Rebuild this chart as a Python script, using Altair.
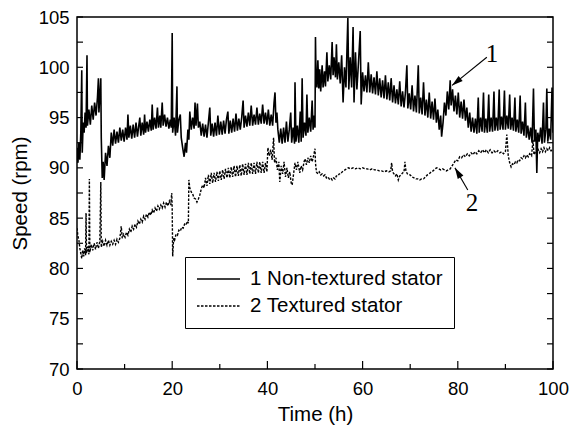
import altair as alt
import pandas as pd

# ---------------- data ----------------
series_names = ["1 Non-textured stator", "2 Textured stator"]

t1 = [0.0, 0.2, 0.4, 0.6, 0.8, 1.0, 1.1, 1.3, 1.5, 1.7, 1.9, 2.1, 2.2, 2.5, 2.8, 3.1, 3.4, 3.7, 4.0, 4.3,
      4.5, 4.6, 4.8, 5.0, 5.1, 5.3, 5.5, 5.7, 6.0, 6.3, 6.6, 6.9, 7.2, 7.5, 7.8, 8.1, 8.4, 8.7, 9.0, 9.3,
      9.6, 9.9, 10.2, 10.5, 10.7, 10.9, 11.2, 11.5, 11.8, 12.1, 12.4, 12.7, 13.0, 13.2, 13.4, 13.7, 14.0, 14.2, 14.4, 14.7,
      15.0, 15.3, 15.6, 15.8, 16.0, 16.3, 16.6, 16.9, 17.1, 17.4, 17.6, 17.9, 18.1, 18.4, 18.7, 19.0, 19.3, 19.6, 19.8, 20.0,
      20.1, 20.4, 20.7, 21.0, 21.1, 21.4, 21.7, 21.9, 22.2, 22.5, 22.8, 23.0, 23.3, 23.5, 23.7, 24.0, 24.3, 24.6, 24.8, 25.0,
      25.3, 25.5, 25.8, 26.1, 26.4, 26.7, 27.0, 27.3, 27.6, 27.9, 28.1, 28.4, 28.7, 29.0, 29.3, 29.6, 29.9, 30.2, 30.5, 30.8,
      31.1, 31.4, 31.7, 31.9, 32.2, 32.5, 32.8, 33.1, 33.4, 33.7, 34.0, 34.3, 34.6, 34.9, 35.1, 35.4, 35.7, 36.0, 36.3, 36.6,
      36.9, 37.2, 37.5, 37.8, 38.1, 38.4, 38.7, 39.0, 39.3, 39.6, 39.9, 40.2, 40.5, 40.8, 41.1, 41.4, 41.6, 41.8, 42.0, 42.2,
      42.5, 42.8, 43.1, 43.4, 43.7, 44.0, 44.3, 44.6, 44.9, 45.1, 45.4, 45.7, 45.8, 46.0, 46.3, 46.6, 46.9, 47.1, 47.3, 47.5,
      47.8, 48.1, 48.3, 48.5, 48.8, 49.1, 49.4, 49.6, 49.8, 50.0, 50.1, 50.2, 50.4, 50.6, 50.8, 51.0, 51.2, 51.5, 51.7, 52.0,
      52.2, 52.5, 52.7, 53.0, 53.3, 53.6, 53.8, 54.0, 54.3, 54.5, 54.7, 55.0, 55.3, 55.6, 55.9, 56.2, 56.5, 56.9, 57.1, 57.4,
      57.7, 58.0, 58.2, 58.5, 58.8, 59.1, 59.5, 59.7, 60.0, 60.3, 60.6, 60.9, 61.2, 61.5, 61.8, 62.1, 62.4, 62.7, 63.0, 63.3,
      63.6, 63.9, 64.2, 64.5, 64.8, 65.1, 65.4, 65.7, 66.0, 66.3, 66.6, 66.9, 67.2, 67.5, 67.8, 68.1, 68.4, 68.7, 69.0, 69.3,
      69.5, 69.8, 70.1, 70.4, 70.7, 71.0, 71.3, 71.7, 71.9, 72.2, 72.5, 72.8, 73.1, 73.4, 73.7, 74.0, 74.3, 74.6, 74.9, 75.2,
      75.5, 75.8, 76.1, 76.4, 76.6, 76.9, 77.2, 77.5, 77.8, 78.1, 78.4, 78.6, 78.9, 79.2, 79.5, 79.8, 80.1, 80.4, 80.7, 81.0,
      81.3, 81.6, 81.9, 82.2, 82.5, 82.8, 83.1, 83.4, 83.7, 84.0, 84.3, 84.5, 84.8, 85.1, 85.4, 85.6, 85.9, 86.2, 86.5, 86.7,
      87.0, 87.3, 87.6, 87.8, 88.1, 88.4, 88.7, 88.9, 89.2, 89.5, 89.8, 90.0, 90.3, 90.6, 90.9, 91.1, 91.4, 91.7, 92.0, 92.2,
      92.5, 92.8, 93.1, 93.3, 93.6, 93.9, 94.2, 94.4, 94.7, 95.0, 95.3, 95.6, 95.9, 96.1, 96.4, 96.6, 96.8, 97.1, 97.4, 97.7,
      98.0, 98.2, 98.5, 98.7, 98.9, 99.2, 99.5, 99.8, 100.0]
v1 = [92.0, 90.5, 92.5, 90.8, 93.5, 99.7, 91.5, 94.5, 93.5, 95.5, 94.0, 101.2, 94.2, 95.8, 94.3, 96.2, 94.8, 96.5, 95.2, 97.0,
      98.9, 95.5, 97.2, 98.9, 93.0, 89.0, 90.6, 88.8, 91.5, 90.2, 92.2, 91.0, 93.5, 92.2, 93.8, 92.4, 93.6, 92.5, 94.0, 92.7,
      93.8, 92.6, 94.0, 92.8, 95.3, 93.0, 94.2, 92.9, 94.3, 93.0, 94.5, 93.1, 94.3, 95.0, 93.2, 94.5, 93.3, 95.3, 93.5, 94.6,
      93.6, 94.8, 93.7, 96.3, 93.8, 95.0, 93.9, 96.0, 94.0, 95.2, 94.0, 96.5, 94.2, 95.3, 94.1, 95.0, 93.9, 94.8, 94.0, 103.4,
      93.5, 95.0, 93.2, 98.1, 93.5, 94.8, 95.3, 93.0, 92.0, 91.1, 92.5, 91.5, 93.8, 92.8, 95.6, 93.8, 95.0, 93.9, 96.5, 94.2,
      96.4, 94.0, 94.6, 93.2, 94.4, 93.1, 94.3, 93.0, 94.5, 96.0, 93.2, 94.4, 93.1, 94.5, 93.2, 95.2, 93.3, 94.6, 93.3, 94.7,
      93.4, 94.8, 95.6, 93.4, 94.7, 93.5, 94.9, 93.6, 95.4, 93.7, 94.9, 93.8, 95.0, 96.7, 94.0, 95.2, 94.1, 95.5, 94.2, 96.2,
      94.2, 95.3, 94.3, 96.0, 94.3, 95.4, 94.4, 96.3, 94.4, 95.5, 94.3, 95.8, 94.2, 95.3, 94.2, 96.5, 97.5, 94.5, 95.5, 93.8,
      92.5, 93.9, 92.4, 94.0, 92.5, 94.6, 92.6, 93.8, 95.5, 92.5, 94.0, 92.4, 98.5, 92.6, 94.2, 92.5, 95.6, 92.6, 98.9, 93.0,
      94.5, 93.2, 97.3, 93.5, 95.0, 93.6, 96.7, 93.8, 95.2, 94.0, 103.0, 99.5, 98.0, 100.7, 97.9, 99.8, 97.6, 100.2, 98.0, 99.6,
      98.1, 101.5, 98.6, 100.2, 98.8, 102.5, 99.2, 101.0, 99.0, 102.3, 98.8, 100.5, 98.4, 101.2, 96.5, 100.0, 98.0, 104.9, 97.8, 101.0,
      98.0, 104.0, 96.5, 101.5, 97.8, 100.2, 103.6, 96.3, 99.5, 97.6, 99.2, 97.5, 100.5, 97.5, 99.3, 97.4, 99.0, 97.3, 99.6, 97.2,
      98.9, 97.0, 98.7, 96.9, 99.2, 96.8, 98.5, 96.7, 98.9, 96.5, 98.2, 96.4, 97.8, 96.3, 98.6, 96.1, 97.6, 96.0, 97.5, 100.2,
      95.9, 97.4, 95.8, 98.2, 95.6, 97.2, 95.5, 100.2, 95.4, 97.0, 95.3, 98.5, 95.2, 96.8, 95.0, 97.5, 94.9, 96.6, 94.8, 96.9,
      94.5, 95.8, 93.8, 95.2, 93.1, 94.5, 96.5, 95.2, 97.6, 95.8, 98.7, 96.2, 97.8, 95.6, 97.2, 95.3, 97.5, 95.0, 96.6, 94.9,
      96.8, 94.7, 96.0, 94.0, 95.5, 93.6, 95.0, 93.5, 94.9, 93.4, 97.0, 93.5, 95.0, 93.6, 97.5, 93.5, 94.9, 93.5, 97.3, 93.6,
      95.0, 93.6, 97.6, 93.7, 95.0, 93.7, 97.8, 93.8, 95.1, 93.8, 97.7, 93.8, 95.2, 93.9, 97.3, 93.8, 95.0, 93.7, 97.0, 93.6,
      94.8, 93.5, 97.2, 93.4, 94.6, 93.2, 96.5, 93.0, 94.2, 92.8, 94.0, 92.5, 97.9, 92.6, 93.8, 89.5, 93.5, 92.6, 94.0, 92.4,
      96.5, 92.5, 93.8, 97.9, 92.6, 93.9, 92.8, 98.0, 93.5]

t2 = [0.0, 0.2, 0.4, 0.6, 0.8, 1.0, 1.2, 1.4, 1.6, 1.8, 1.9, 2.0, 2.3, 2.5, 2.6, 2.7, 3.0, 3.3, 3.6, 3.9,
      4.2, 4.5, 4.8, 5.0, 5.1, 5.4, 5.7, 6.0, 6.3, 6.6, 6.9, 7.2, 7.5, 7.8, 8.1, 8.4, 8.7, 9.0, 9.3, 9.5,
      9.8, 10.1, 10.4, 10.7, 11.0, 11.3, 11.6, 11.9, 12.2, 12.5, 12.8, 13.1, 13.4, 13.7, 14.0, 14.3, 14.6, 14.9, 15.2, 15.5,
      15.8, 16.1, 16.4, 16.7, 17.0, 17.3, 17.6, 17.9, 18.2, 18.5, 18.8, 19.1, 19.4, 19.7, 19.9, 20.0, 20.1, 20.3, 20.5, 20.8,
      21.1, 21.4, 21.7, 22.0, 22.3, 22.6, 22.9, 23.2, 23.4, 23.5, 23.7, 24.0, 24.3, 24.6, 24.9, 25.2, 25.5, 25.8, 26.1, 26.4,
      26.7, 27.0, 27.3, 27.6, 27.9, 28.2, 28.5, 28.8, 29.1, 29.4, 29.7, 30.0, 30.3, 30.6, 30.9, 31.2, 31.5, 31.8, 32.1, 32.4,
      32.7, 33.0, 33.3, 33.6, 33.9, 34.2, 34.5, 34.8, 35.1, 35.4, 35.7, 36.0, 36.3, 36.6, 36.9, 37.2, 37.5, 37.8, 38.1, 38.4,
      38.7, 39.0, 39.3, 39.6, 39.9, 40.1, 40.4, 40.7, 41.0, 41.3, 41.5, 41.8, 42.1, 42.4, 42.6, 42.9, 43.2, 43.5, 43.8, 44.1,
      44.4, 44.7, 45.0, 45.2, 45.5, 45.8, 46.1, 46.4, 46.8, 47.1, 47.4, 47.7, 47.9, 48.2, 48.5, 48.8, 49.1, 49.4, 49.7, 50.0,
      50.1, 50.3, 50.6, 50.9, 51.2, 51.5, 51.8, 52.1, 52.4, 52.7, 53.0, 53.3, 53.6, 53.9, 54.2, 54.5, 54.8, 55.1, 55.4, 55.7,
      56.0, 56.3, 56.6, 57.0, 57.5, 58.0, 58.5, 59.0, 59.5, 60.0, 60.5, 61.0, 61.5, 62.0, 62.5, 63.0, 63.5, 64.0, 64.5, 65.0,
      65.5, 65.9, 66.1, 66.3, 66.6, 66.9, 67.2, 67.5, 67.8, 68.1, 68.4, 68.7, 68.9, 69.1, 69.4, 69.7, 70.0, 70.4, 70.8, 71.2,
      71.6, 72.0, 72.4, 72.8, 73.2, 73.6, 74.0, 74.4, 74.8, 75.2, 75.6, 76.0, 76.4, 76.8, 77.2, 77.6, 78.0, 78.4, 78.8, 79.2,
      79.6, 80.0, 80.4, 80.8, 81.2, 81.6, 82.0, 82.4, 82.8, 83.2, 83.6, 84.0, 84.4, 84.8, 85.2, 85.6, 86.0, 86.4, 86.8, 87.2,
      87.6, 88.0, 88.4, 88.8, 89.2, 89.6, 90.0, 90.3, 90.6, 90.9, 91.2, 91.5, 91.8, 92.1, 92.4, 92.7, 93.0, 93.3, 93.6, 93.9,
      94.2, 94.5, 94.8, 95.1, 95.5, 95.8, 96.0, 96.3, 96.6, 96.9, 97.2, 97.5, 97.8, 98.1, 98.4, 98.7, 99.0, 99.3, 99.6, 100.0]
v2 = [84.0, 83.2, 82.8, 82.0, 81.5, 81.0, 81.8, 81.2, 82.0, 81.3, 85.5, 81.5, 82.2, 81.4, 88.9, 81.6, 82.4, 81.8, 82.5, 81.9,
      82.6, 82.0, 82.7, 88.6, 82.1, 82.7, 82.2, 82.8, 82.3, 82.8, 82.3, 82.7, 82.4, 82.8, 82.4, 82.9, 82.6, 83.0, 84.2, 83.0,
      83.4, 83.1, 83.6, 83.3, 83.9, 83.6, 84.2, 83.9, 84.4, 84.1, 84.7, 84.4, 84.9, 84.6, 85.2, 84.9, 85.4, 85.1, 85.6, 85.3,
      85.8, 85.5, 86.0, 85.7, 86.2, 85.9, 86.3, 86.0, 86.5, 86.1, 86.6, 86.2, 86.7, 86.3, 87.5, 86.0, 81.2, 83.0, 82.8, 83.4,
      83.3, 83.8, 83.7, 84.1, 84.0, 84.4, 84.3, 84.7, 84.5, 88.8, 88.0, 87.6, 87.4, 87.0, 86.9, 86.6, 86.9, 87.3, 87.9, 88.3,
      88.0, 89.0, 88.2, 89.3, 88.4, 89.5, 88.5, 89.5, 88.6, 89.6, 88.7, 89.7, 88.8, 89.8, 88.9, 89.9, 89.0, 90.0, 89.0, 90.1,
      89.1, 90.2, 89.1, 90.2, 89.2, 90.3, 89.2, 90.4, 89.3, 90.4, 89.3, 90.5, 89.4, 90.5, 89.4, 90.5, 89.4, 90.6, 89.5, 90.6,
      89.5, 90.6, 89.5, 90.5, 89.6, 92.0, 91.2, 91.8, 90.8, 93.0, 90.5, 91.0, 89.8, 90.6, 88.6, 90.2, 89.4, 90.6, 89.1, 90.0,
      89.0, 89.6, 88.5, 88.3, 89.4, 90.5, 89.8, 90.6, 89.5, 90.2, 89.8, 90.6, 90.9, 90.3, 91.0, 90.5, 91.2, 90.6, 91.2, 91.9,
      90.5, 89.6, 89.4, 89.6, 89.3, 89.4, 89.2, 89.3, 89.0, 89.1, 88.9, 89.0, 88.8, 89.0, 88.9, 89.2, 89.2, 89.4, 89.4, 89.6,
      89.7, 89.8, 89.9, 90.0, 89.9, 90.0, 89.9, 90.0, 89.9, 90.0, 89.9, 89.9, 89.8, 89.9, 89.8, 89.8, 89.7, 89.7, 89.6, 89.7,
      89.6, 89.7, 90.5, 89.6, 89.4, 89.2, 89.4, 88.8, 89.2, 89.3, 89.5, 89.6, 90.6, 89.7, 89.4, 89.3, 89.3, 89.1, 89.0, 88.9,
      88.9, 88.8, 88.9, 88.9, 89.1, 89.3, 89.4, 89.6, 89.7, 89.9, 90.0, 89.9, 89.8, 89.9, 89.8, 89.7, 89.8, 89.9, 90.2, 90.5,
      90.8, 90.7, 91.1, 91.0, 91.3, 91.1, 91.4, 91.2, 91.5, 91.3, 91.6, 91.4, 91.7, 91.5, 91.8, 91.5, 91.8, 91.5, 91.8, 91.5,
      91.7, 91.5, 91.7, 91.5, 91.6, 91.4, 91.6, 93.3, 91.2, 90.5, 90.1, 90.4, 90.3, 90.6, 90.5, 90.8, 90.7, 91.0, 90.9, 91.2,
      91.0, 91.3, 91.1, 91.4, 91.2, 92.8, 91.3, 91.6, 91.4, 91.8, 91.5, 91.9, 91.6, 92.0, 91.6, 91.9, 91.7, 92.0, 91.7, 91.9]

# annotation arrows ("1" and "2"): label position, arrow tail and tip (data units)
ann_labels = ["1", "2"]
ann_label_t = [87.2, 83.0]
ann_label_v = [101.3, 86.5]
ann_tail_t = [86.1, 82.1]
ann_tail_v = [101.0, 87.8]
ann_tip_t = [78.8, 79.4]
ann_tip_v = [98.2, 90.0]

x_major = [0, 20, 40, 60, 80, 100]
x_minor = [10, 30, 50, 70, 90]
y_major = [70, 75, 80, 85, 90, 95, 100, 105]
y_minor = [72.5, 77.5, 82.5, 87.5, 92.5, 97.5, 102.5]

# ---------------- build ----------------
W, H = 476, 352
FONT = "Liberation Sans"

df = pd.concat([
    pd.DataFrame({"time": t1, "speed": v1, "series": series_names[0]}),
    pd.DataFrame({"time": t2, "speed": v2, "series": series_names[1]}),
])

xs = alt.Scale(domain=[0, 100], nice=False, zero=False)
ys = alt.Scale(domain=[70, 105], nice=False, zero=False)

x_axis = alt.Axis(title="Time (h)", values=x_major, ticks=False, domain=False, grid=False,
                  labelFontSize=18.5, labelFont=FONT, labelColor="black", labelPadding=10,
                  titleFontSize=20.5, titleFont=FONT, titleFontWeight="normal", titleColor="black",
                  titlePadding=7, labelFlush=False)
y_axis = alt.Axis(title="Speed (rpm)", values=y_major, ticks=False, domain=False, grid=False,
                  labelFontSize=18.5, labelFont=FONT, labelColor="black", labelPadding=8,
                  titleFontSize=20.5, titleFont=FONT, titleFontWeight="normal", titleColor="black",
                  titlePadding=8, labelFlush=False)

lines = alt.Chart(df).mark_line(color="black", clip=True).encode(
    x=alt.X("time:Q", scale=xs, axis=x_axis),
    y=alt.Y("speed:Q", scale=ys, axis=y_axis),
    strokeDash=alt.StrokeDash("series:N",
        scale=alt.Scale(domain=series_names, range=[[1, 0], [2.5, 1.5]]),
        legend=alt.Legend(title=None, orient="none", legendX=108, legendY=240, direction="vertical",
                          strokeColor="black", fillColor="white", padding=11,
                          labelFontSize=20.5, labelFont=FONT, labelColor="black", labelLimit=400,
                          symbolType="stroke", symbolSize=1849, symbolStrokeWidth=1.2,
                          symbolStrokeColor="black", labelOffset=9, rowPadding=5, clipHeight=22)),
    strokeWidth=alt.StrokeWidth("series:N",
        scale=alt.Scale(domain=series_names, range=[1.6, 1.4]), legend=None),
    detail="series:N",
)

ydf = pd.DataFrame({"speed": y_major + y_minor})
xmaj = pd.DataFrame({"time": x_major})
xmin = pd.DataFrame({"time": x_minor})

left_ticks = alt.Chart(ydf).mark_rule(color="black", strokeWidth=1.2).encode(
    y=alt.Y("speed:Q", scale=ys, axis=y_axis), x=alt.value(0), x2=alt.value(6))
right_ticks = alt.Chart(ydf).mark_rule(color="black", strokeWidth=1.2).encode(
    y=alt.Y("speed:Q", scale=ys, axis=y_axis), x=alt.value(W), x2=alt.value(W - 6))
bottom_major = alt.Chart(xmaj).mark_rule(color="black", strokeWidth=1.2).encode(
    x=alt.X("time:Q", scale=xs, axis=x_axis), y=alt.value(H), y2=alt.value(H - 8))
bottom_minor = alt.Chart(xmin).mark_rule(color="black", strokeWidth=1.2).encode(
    x=alt.X("time:Q", scale=xs, axis=x_axis), y=alt.value(H), y2=alt.value(H - 5))

ann = pd.DataFrame({"label": ann_labels, "lt": ann_label_t, "lv": ann_label_v,
                    "time": ann_tail_t, "speed": ann_tail_v, "t1": ann_tip_t, "v1": ann_tip_v})

shafts = alt.Chart(ann).mark_rule(color="black", strokeWidth=1.1).encode(
    x=alt.X("time:Q", scale=xs, axis=x_axis), y=alt.Y("speed:Q", scale=ys, axis=y_axis),
    x2="t1:Q", y2="v1:Q")
labels = alt.Chart(ann).mark_text(font="Liberation Serif", fontSize=25, color="black",
                                  align="center", baseline="middle").transform_calculate(
    time="datum.lt", speed="datum.lv").encode(
    x=alt.X("time:Q", scale=xs, axis=x_axis), y=alt.Y("speed:Q", scale=ys, axis=y_axis), text="label:N")

head_angles = {"1": 231, "2": 329}
heads = []
for lab, ang in head_angles.items():
    heads.append(
        alt.Chart(ann).transform_filter(alt.datum.label == lab).transform_calculate(
            time="datum.t1", speed="datum.v1").mark_point(
            shape="M0,0L0.6,2L-0.6,2Z", filled=True, color="black", size=120, opacity=1, strokeWidth=0
        ).encode(x=alt.X("time:Q", scale=xs, axis=x_axis), y=alt.Y("speed:Q", scale=ys, axis=y_axis),
                 angle=alt.value(ang))
    )

chart = alt.layer(lines, left_ticks, right_ticks, bottom_major, bottom_minor, shafts, labels, *heads).properties(
    width=W, height=H,
    padding={"left": 77, "top": 17, "right": 20, "bottom": 61},
    autosize=alt.AutoSizeParams(type="none"),
    background="white",
).configure_view(stroke="black", strokeWidth=1.5)

chart.save("out.html", embed_options={"renderer": "svg", "actions": False})
